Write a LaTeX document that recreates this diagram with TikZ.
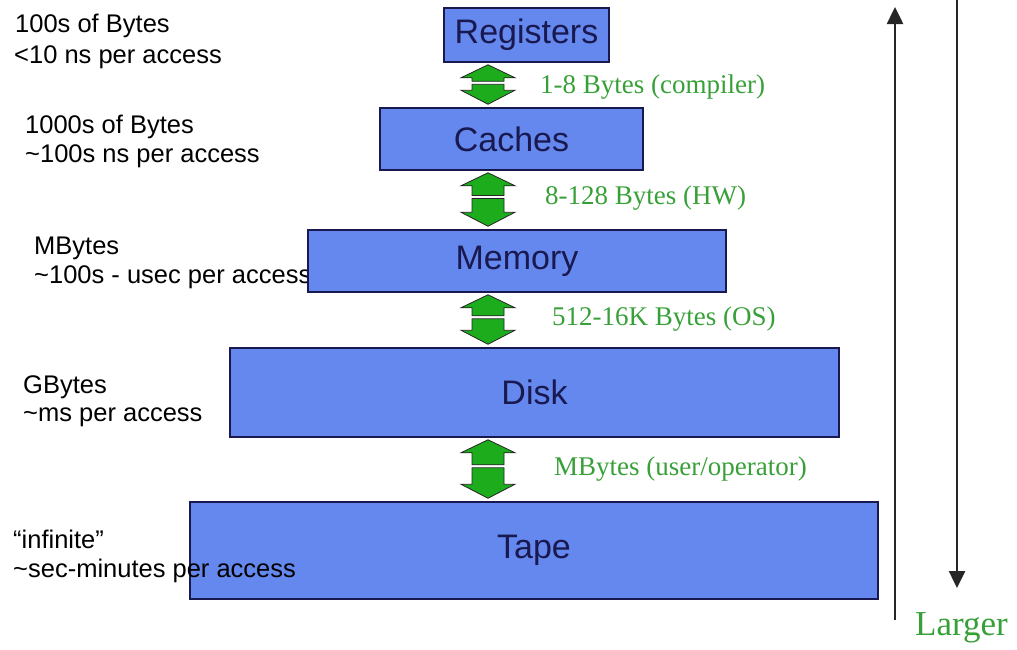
\documentclass[tikz,border=0pt]{standalone}
\usepackage{fontspec}
\setmainfont{Liberation Sans}
\newfontfamily\timesfont{Liberation Serif}
\usetikzlibrary{calc,arrows.meta}
\definecolor{levelblue}{RGB}{100,136,238}
\definecolor{levelline}{RGB}{25,25,80}
\definecolor{movegreen}{RGB}{28,172,28}
\definecolor{labelgreen}{RGB}{56,160,56}

% pair of block arrows (up, then down) between two levels
\newcommand{\transfer}[2]{%
  \coordinate (t) at (ax |- #1.south);
  \coordinate (b) at (ax |- #2.north);
  \coordinate (m) at ($(t)!0.45!(b)$);
  \filldraw[updown] ($(t)+(0,2)$) -- ($(t)+(27,15)$) -- ($(t)+(16,15)$) -- ($(m)+(16,-1.5)$)
    -- ($(m)+(-16,-1.5)$) -- ($(t)+(-16,15)$) -- ($(t)+(-27,15)$) -- cycle;
  \filldraw[updown] ($(b)+(0,-3)$) -- ($(b)+(27,-17)$) -- ($(b)+(16,-17)$) -- ($(m)+(16,1.5)$)
    -- ($(m)+(-16,1.5)$) -- ($(b)+(-16,-17)$) -- ($(b)+(-27,-17)$) -- cycle;
}

\begin{document}
\begin{tikzpicture}[%
x=1pt, y=-1pt,
level/.style={rectangle, draw=levelline, line width=1.5pt, fill=levelblue, inner sep=0pt,
  text=levelline, font=\fontsize{34}{40}\selectfont},
side/.style={anchor=base west, inner sep=0pt, font=\fontsize{25.5}{30}\selectfont},
move/.style={anchor=base west, inner sep=0pt, text=labelgreen, font=\timesfont\fontsize{27}{32}\selectfont},
updown/.style={fill=movegreen, draw=black!85, line width=0.8pt, line join=miter},
scalearrow/.style={draw=black!85, line width=2.5pt, -{Triangle[width=16pt,length=17pt]}},
]
\useasboundingbox (0,0) rectangle (1017,649);
\coordinate (ax) at (488,0);
%% label;
\node[side] (regsize) at (15,32) {100s of Bytes};
\node[side] (regtime) at (14,63) {<10 ns per access};
\node[side] (cachesize) at (25,133) {1000s of Bytes};
\node[side] (cachetime) at (25,162) {\textasciitilde100s ns per access};
\node[side] (memsize) at (34,254) {MBytes};
\node[side] (memtime) at (34,283) {\textasciitilde100s - usec per access};
\node[side] (disksize) at (23,393) {GBytes};
\node[side] (disktime) at (23,421) {\textasciitilde ms per access};
%% box;
\node[level, minimum width=165, minimum height=54] (regs) at (526.5,35) {Registers};
\node[level, minimum width=263, minimum height=62] (cache) at (511.5,139) {Caches};
\node[level, minimum width=418, minimum height=62] (mem) at (517,261) {Memory};
\node[level, minimum width=609, minimum height=89] (disk) at (534.5,392.5) {Disk};
\node[level, minimum width=688, minimum height=97] (tape) at (534,550.5) {Tape};
%% label;
\node[side] (tapesize) at (13,548) {“infinite”};
\node[side] (tapetime) at (13,577) {\textasciitilde sec-minutes per access};
%% transfer;
\transfer{regs}{cache}
\transfer{cache}{mem}
\transfer{mem}{disk}
\transfer{disk}{tape}
%% label;
\node[move] (unit1) at (540,93) {1-8 Bytes (compiler)};
\node[move] (unit2) at (545,204) {8-128 Bytes (HW)};
\node[move] (unit3) at (552,325) {512-16K Bytes (OS)};
\node[move] (unit4) at (554,475) {MBytes (user/operator)};
%% scale;
\coordinate (upfoot) at (895,620);
\coordinate (uptop) at (895,7);
\coordinate (downtop) at (957,0);
\coordinate (downfoot) at (957,588);
\draw[scalearrow] (upfoot) -- (uptop);
\draw[scalearrow] (downtop) -- (downfoot);
\node[move, font=\timesfont\fontsize{35}{40}\selectfont] (larger) at (915,635) {Larger};
\end{tikzpicture}
\end{document}
